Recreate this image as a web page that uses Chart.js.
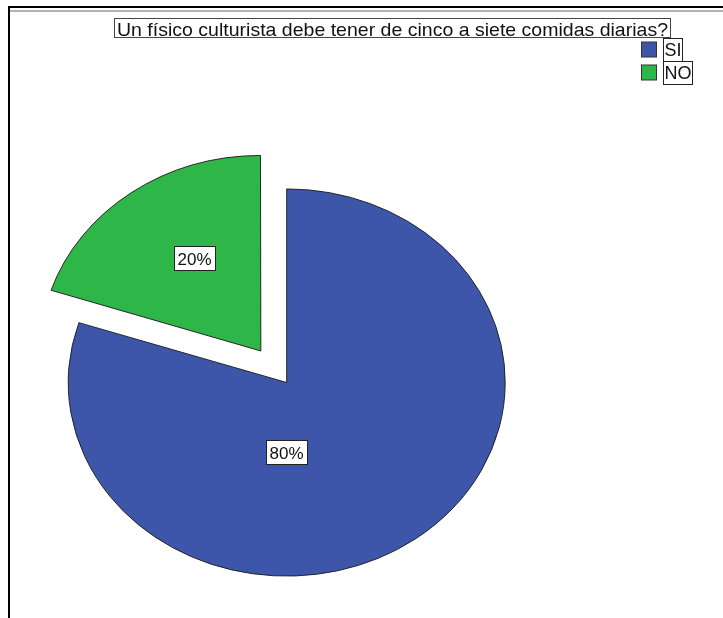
<!DOCTYPE html>
<html>
<head>
<meta charset="utf-8">
<script src="https://cdn.jsdelivr.net/npm/chart.js@4/dist/chart.umd.min.js"></script>
<style>
  html, body { margin: 0; padding: 0; background: #fff; overflow: hidden; }
  canvas { display: block; }
</style>
</head>
<body>
<canvas id="c" width="723" height="618"></canvas>
<script>
// Survey question and answers
const chartTitle = 'Un físico culturista debe tener de cinco a siete comidas diarias?';
const categories = ['SI', 'NO'];
const percentages = [80, 20];
const sliceColors = ['#3D56AA', '#2EB748'];

const FONT = '"Liberation Sans", Arial, sans-serif';
const Y_SQUASH = 0.886;           // pie is drawn as an ellipse (vertical squash)

// Frame, boxed title and boxed legend in the SPSS output style
const framePlugin = {
  id: 'frame',
  beforeDraw(chart) {
    const ctx = chart.ctx;
    ctx.save();
    ctx.fillStyle = '#fff';
    ctx.fillRect(0, 0, chart.width, chart.height);
    ctx.fillStyle = '#000';
    ctx.fillRect(8, 6, chart.width - 8, 2);
    ctx.fillRect(8, 6, 2, chart.height - 6);
    ctx.fillStyle = '#b4b4b4';
    ctx.fillRect(10, 10, chart.width - 10, 2);
    ctx.restore();
  },
  afterDraw(chart) {
    const ctx = chart.ctx;
    ctx.save();
    // title
    ctx.font = '19px ' + FONT;
    ctx.fillStyle = '#111';
    ctx.textBaseline = 'alphabetic';
    const tw = ctx.measureText(chartTitle).width;
    const target = 551;
    ctx.save();
    ctx.translate(117, 36);
    ctx.scale(target / tw, 1);
    ctx.fillText(chartTitle, 0, 0);
    ctx.restore();
    ctx.strokeStyle = '#444';
    ctx.lineWidth = 1;
    ctx.strokeRect(114.5, 18.5, 556, 19);

    // legend
    ctx.font = '18px ' + FONT;
    categories.forEach((name, i) => {
      const top = 38.5 + i * 23;
      ctx.fillStyle = sliceColors[i];
      ctx.fillRect(641, top + 3.5, 16, 15);
      ctx.strokeStyle = '#333';
      ctx.strokeRect(641.5, top + 3.5, 15, 15);
      const w = ctx.measureText(name).width;
      ctx.fillStyle = '#fff';
      ctx.fillRect(663.5, top, w + 2, 23);
      ctx.strokeStyle = '#222';
      ctx.strokeRect(663.5, top, Math.round(w + 2), 23);
      ctx.fillStyle = '#111';
      ctx.fillText(name, 664.5, top + 17.5);
    });
    ctx.restore();
  }
};

// Squash the pie into an ellipse, then put the boxed percentage labels on it
const ellipsePlugin = {
  id: 'ellipse',
  beforeDatasetsDraw(chart) {
    const a = chart.chartArea;
    const cy = (a.top + a.bottom) / 2;
    const ctx = chart.ctx;
    ctx.save();
    ctx.translate(0, cy * (1 - Y_SQUASH));
    ctx.scale(1, Y_SQUASH);
  },
  afterDatasetsDraw(chart, args, opts) {
    const ctx = chart.ctx;
    ctx.restore();
    const a = chart.chartArea;
    const cy = (a.top + a.bottom) / 2;
    const meta = chart.getDatasetMeta(0);
    const values = chart.data.datasets[0].data;
    const total = values.reduce((s, v) => s + v, 0);
    ctx.save();
    ctx.font = '17px ' + FONT;
    meta.data.forEach((arc, i) => {
      const p = arc.getProps(['x', 'y', 'startAngle', 'endAngle', 'outerRadius'], true);
      const mid = (p.startAngle + p.endAngle) / 2;
      const shift = (arc.options.offset || 0) / 4;
      const ox = p.x + Math.cos(mid) * shift;
      const oy = p.y + Math.sin(mid) * shift;
      const place = opts.placements[i] || {};
      const ang = place.angle !== undefined ? place.angle : mid;
      const r = (place.r || 0.5) * p.outerRadius;
      const px = ox + Math.cos(ang) * r;
      const py = cy + (oy + Math.sin(ang) * r - cy) * Y_SQUASH;
      const text = Math.round(values[i] / total * 100) + '%';
      const w = ctx.measureText(text).width;
      const bw = Math.round(w + 7), bh = 24;
      const bx = Math.round(px - bw / 2) + 0.5, by = Math.round(py - bh / 2) + 0.5;
      ctx.fillStyle = '#fff';
      ctx.fillRect(bx, by, bw, bh);
      ctx.strokeStyle = '#222';
      ctx.lineWidth = 1;
      ctx.strokeRect(bx, by, bw, bh);
      ctx.fillStyle = '#111';
      ctx.textBaseline = 'alphabetic';
      ctx.fillText(text, bx + 3, by + 18.5);
    });
    ctx.restore();
  }
};

new Chart(document.getElementById('c'), {
  type: 'pie',
  data: {
    labels: categories,
    datasets: [{
      data: percentages,
      backgroundColor: sliceColors,
      borderColor: '#1e1e1e',
      borderWidth: 1,
      offset: [0, 176],
      radius: 218.5,
      clip: false
    }]
  },
  options: {
    responsive: false,
    animation: false,
    events: [],
    layout: { padding: { left: 0, right: 149.6, top: 147, bottom: 0 } },
    plugins: {
      legend: { display: false },
      title: { display: false },
      tooltip: { enabled: false },
      ellipse: {
        placements: [
          { angle: Math.PI / 2, r: 0.36 },
          { angle: -2.135, r: 0.57 }
        ]
      }
    }
  },
  plugins: [framePlugin, ellipsePlugin]
});
</script>
</body>
</html>
